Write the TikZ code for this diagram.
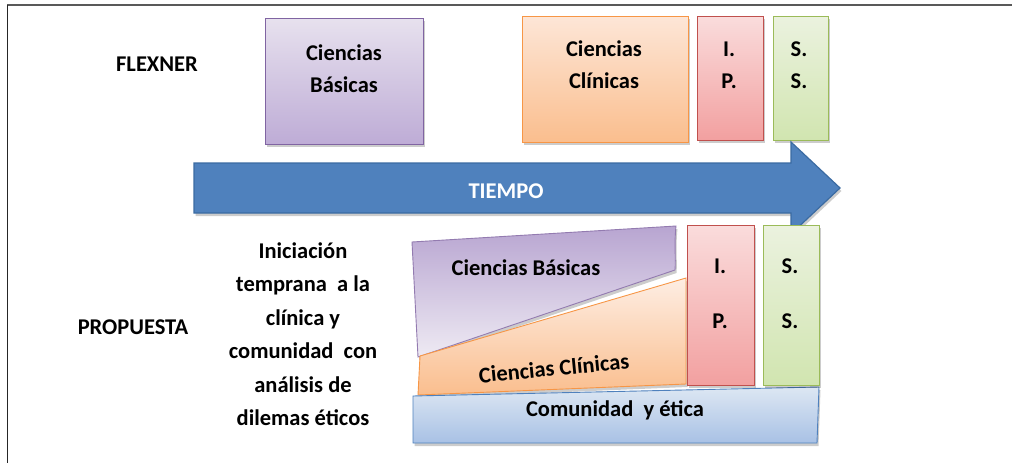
\documentclass[tikz,border=0pt]{standalone}
\usepackage{fontspec}
\setmainfont{Carlito}
\usetikzlibrary{shadows}
\definecolor{purT}{HTML}{E7E1EE}
\definecolor{purB}{HTML}{BEACD6}
\definecolor{purD}{HTML}{8064A2}
\definecolor{orT}{HTML}{FDE6D7}
\definecolor{orB}{HTML}{FABE8E}
\definecolor{orD}{HTML}{F79646}
\definecolor{rdT}{HTML}{FADCDC}
\definecolor{rdB}{HTML}{F2A0A0}
\definecolor{rdD}{HTML}{C0504D}
\definecolor{grT}{HTML}{EBF2DF}
\definecolor{grB}{HTML}{D1E5B0}
\definecolor{grD}{HTML}{9BBB59}
\definecolor{blT}{HTML}{DDE7F3}
\definecolor{blB}{HTML}{A8C1E5}
\definecolor{blD}{HTML}{4F81BD}
\definecolor{arrF}{HTML}{4F81BD}
\definecolor{arrD}{HTML}{3B6BA2}
\tikzset{
  shd/.style={drop shadow={shadow xshift=1.5pt, shadow yshift=-3pt, opacity=0.2, fill=black}},
  lbl/.style={font=\fontsize{22.5}{32}\selectfont\bfseries, align=center, inner sep=0pt},
  panel/.style={line width=0.9pt, shd},
}
\begin{document}
\begin{tikzpicture}[x=1pt,y=-1pt]
\useasboundingbox (0,0) rectangle (1012,463);
\fill[white] (0,0) rectangle (1012,463);
% frame
\draw[color=black!65, line width=1.8pt] (7,5) -- (1012,5);
\draw[color=black!85, line width=1.1pt] (7.8,5) -- (7.8,463);

% FLEXNER row
\path[panel, draw=purD, top color=purT, bottom color=purB] (265,18) rectangle (423,144);
\path[panel, draw=orD, top color=orT, bottom color=orB] (522,16) rectangle (688,142);
\path[panel, draw=rdD, top color=rdT, bottom color=rdB] (697,16) rectangle (763,140);
\path[panel, draw=grD, top color=grT, bottom color=grB] (773,16) rectangle (828,140);

\node[lbl] (flex) at (157,64) {FLEXNER};
\node[lbl] (cb1) at (344,69) {Ciencias\\Básicas};
\node[lbl] (cc1) at (604,65) {Ciencias\\Clínicas};
\node[lbl] (ip1) at (729,65) {I.\\P.};
\node[lbl] (ss1) at (799,65) {S.\\S.};

% arrow
\path[fill=arrF, draw=arrD, line width=1.2pt, shd]
  (194,163) -- (791,163) -- (791,142) -- (840,188) -- (791,234) -- (791,213) -- (194,213) -- cycle;
\node[lbl, text=white] (tiempo) at (506,191) {TIEMPO};

% PROPUESTA row
\path[panel, draw=purD!85, top color=purB!90!purD, bottom color=purT!70!white]
  (412,242) -- (676,226) .. controls (674,245) and (676,258) .. (675,270) -- (418,357) -- cycle;
\path[panel, draw=orD, top color=orT!70!white, bottom color=orB]
  (420,356) -- (686,278) -- (686,384) -- (418,395) -- cycle;
\path[panel, draw=blD, top color=blT, bottom color=blB]
  (413,396) -- (819,387) -- (817,443) -- (413,443) -- cycle;
\path[panel, draw=rdD, top color=rdT, bottom color=rdB] (687,225) rectangle (754,385);
\path[panel, draw=grD, top color=grT, bottom color=grB] (763,225) rectangle (819,385);

\node[lbl] (cb2) at (526,268) {Ciencias Básicas};
\node[lbl, rotate=5.5] (cc2) at (554,368) {Ciencias Clínicas};
\node[lbl] (com) at (615,410) {Comunidad\ \ y ética};
\node[lbl] (ip2) at (720,294) {I.\\[23pt]P.};
\node[lbl] (ss2) at (790,294) {S.\\[23pt]S.};

\node[lbl] (prop) at (133,327) {PROPUESTA};
\node[lbl, font=\fontsize{22.5}{33.5}\selectfont\bfseries] (ini) at (303,334)
  {Iniciación\\temprana\ \ a la\\clínica\ y\\comunidad\ \ con\\análisis de\\dilemas éticos};
\end{tikzpicture}
\end{document}
